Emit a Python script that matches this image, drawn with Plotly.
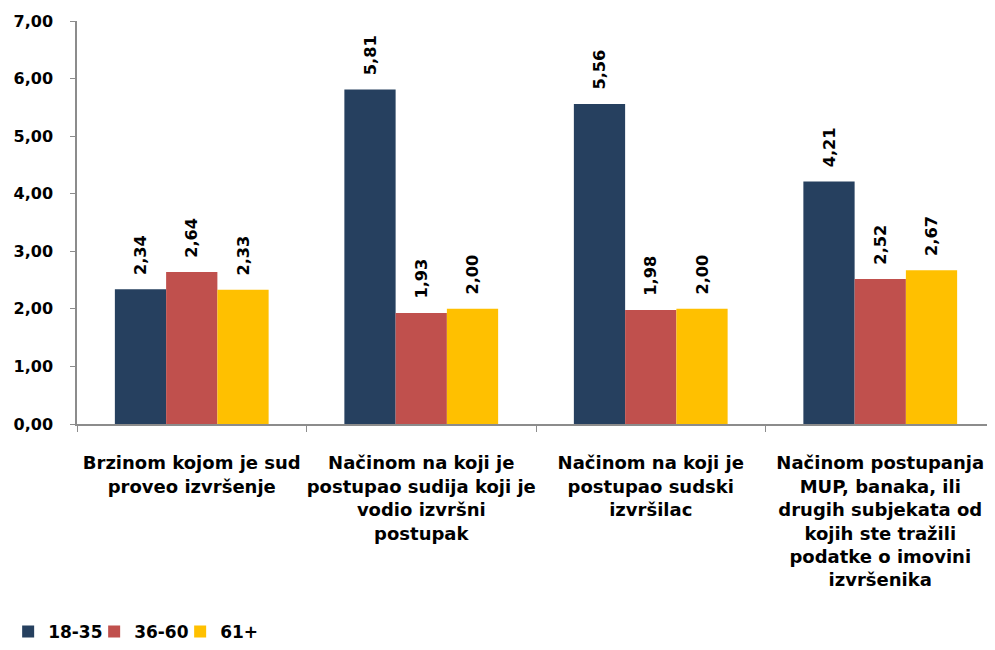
import plotly.graph_objects as go

categories = [
    "Brzinom kojom je sud<br>proveo izvršenje",
    "Načinom na koji je<br>postupao sudija koji je<br>vodio izvršni<br>postupak",
    "Načinom na koji je<br>postupao sudski<br>izvršilac",
    "Načinom postupanja<br>MUP, banaka, ili<br>drugih subjekata od<br>kojih ste tražili<br>podatke o imovini<br>izvršenika",
]
series_names = ["18-35", "36-60", "61+"]
values_18_35 = [2.34, 5.81, 5.56, 4.21]
values_36_60 = [2.64, 1.93, 1.98, 2.52]
values_61 = [2.33, 2.00, 2.00, 2.67]
colors = ["#26405F", "#C0504D", "#FFC000"]

font_family = "DejaVu Sans, Arial, sans-serif"

fig = go.Figure()
for name, vals, col in zip(series_names, [values_18_35, values_36_60, values_61], colors):
    fig.add_trace(go.Bar(
        x=categories, y=vals, name=name,
        marker=dict(color=col, line=dict(width=0)),
        texttemplate="\u00a0\u00a0%{y:.2f}", textposition="outside", textangle=-90,
        textfont=dict(size=17, color="black", family=font_family, weight="bold"),
        cliponaxis=False,
    ))

# page body has an 8px margin, so the figure is sized/offset to compensate
fig.update_layout(
    width=987, height=642,
    barmode="group", bargap=0.33, bargroupgap=0,
    separators=",.",
    plot_bgcolor="white", paper_bgcolor="white",
    font=dict(family=font_family, size=18, color="black", weight="bold"),
    margin=dict(l=69, r=0, t=13, b=224),
    showlegend=True,
    legend=dict(orientation="h", x=-0.075, xanchor="left", y=-0.518, yanchor="middle",
                font=dict(size=17), itemwidth=30, entrywidth=41, traceorder="normal"),
)
fig.update_yaxes(range=[0, 7], dtick=1, tickformat=".2f", showgrid=False,
                 showline=True, linecolor="#8C8C8C", linewidth=1.5,
                 ticks="outside", ticklen=5, tickcolor="#8C8C8C",
                 zeroline=False, ticklabelstandoff=14, automargin=False,
                 tickfont=dict(size=16))
fig.update_xaxes(showline=True, linecolor="#8C8C8C", linewidth=1.5,
                 ticks="outside", tickson="boundaries", ticklen=6, tickcolor="#8C8C8C",
                 tickangle=0, ticklabelstandoff=22, automargin=False,
                 tickfont=dict(size=18))

fig.write_html("out.html")
